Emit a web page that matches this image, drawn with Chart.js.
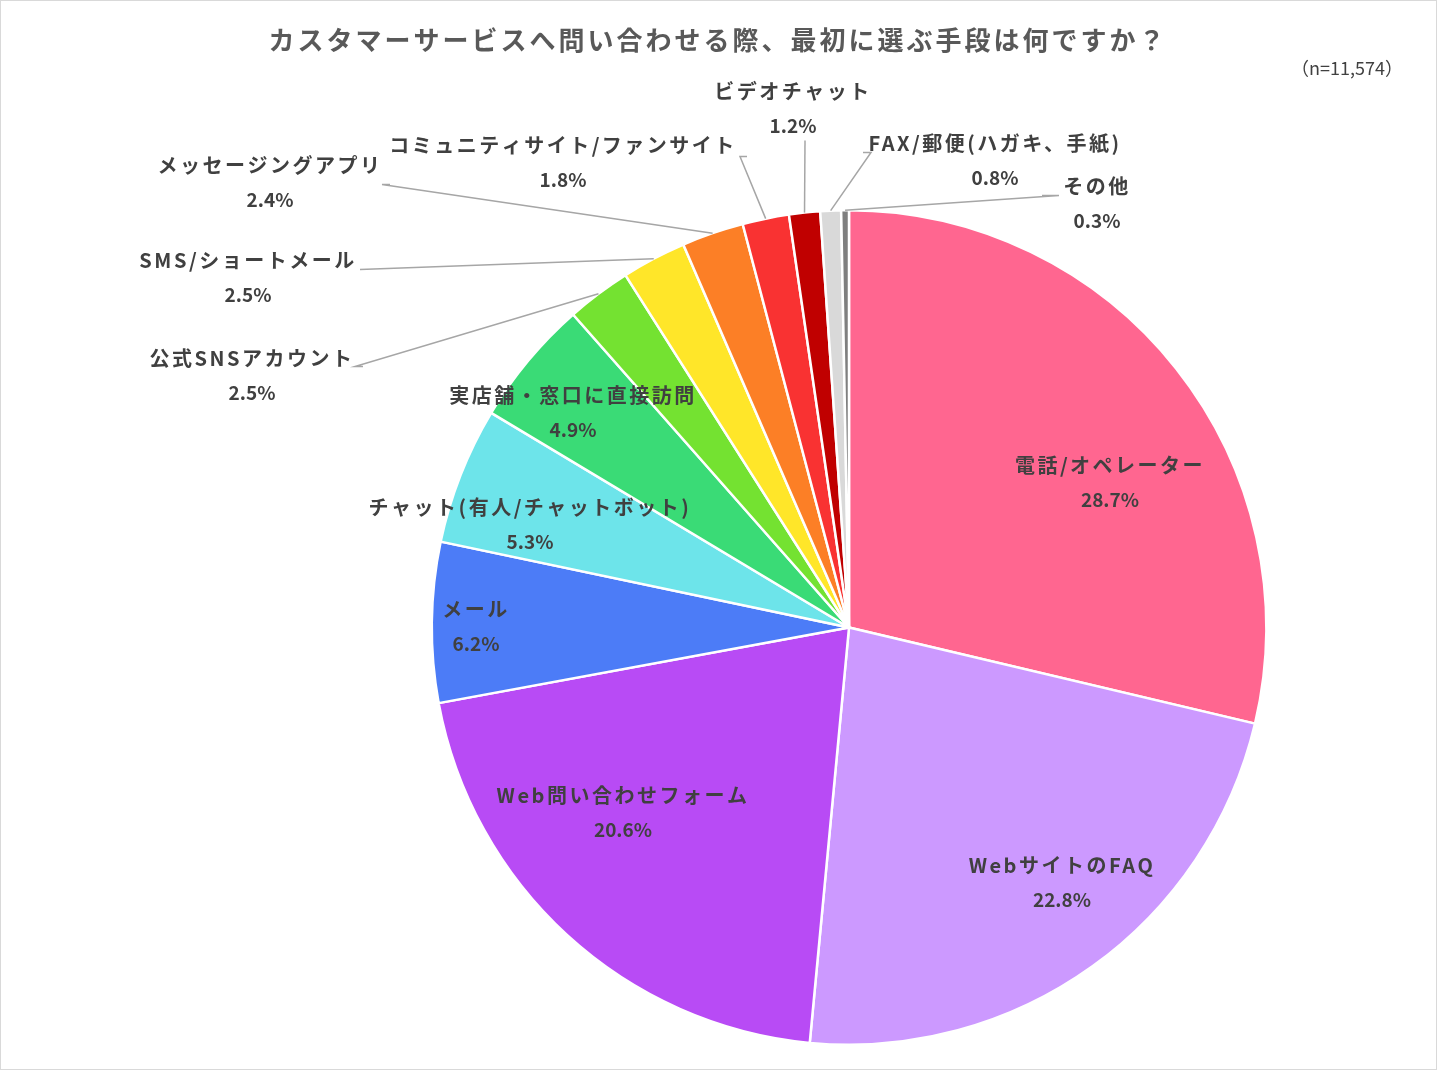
<!DOCTYPE html>
<html>
<head>
<meta charset="utf-8">
<script src="https://cdn.jsdelivr.net/npm/chart.js@4.4.0/dist/chart.umd.min.js"></script>
<style>
  html, body { margin: 0; padding: 0; background: #fff; }
  #wrap { width: 1437px; height: 1070px; }
</style>
</head>
<body>
<div id="wrap"><canvas id="pieChart" width="1437" height="1070"></canvas></div>
<script>
// Data
const categories = [
  "電話/オペレーター",
  "WebサイトのFAQ",
  "Web問い合わせフォーム",
  "メール",
  "チャット(有人/チャットボット)",
  "実店舗・窓口に直接訪問",
  "公式SNSアカウント",
  "SMS/ショートメール",
  "メッセージングアプリ",
  "コミュニティサイト/ファンサイト",
  "ビデオチャット",
  "FAX/郵便(ハガキ、手紙)",
  "その他",
];
const shares = [28.7, 22.8, 20.6, 6.2, 5.3, 4.9, 2.5, 2.5, 2.4, 1.8, 1.2, 0.8, 0.3];
const titleText = "カスタマーサービスへ問い合わせる際、最初に選ぶ手段は何ですか？";
const sampleText = "（n=11,574）";

// Styles
const sliceColors = [
  "#FF6690", "#CC99FF", "#B84BF5", "#4C7CF7", "#6DE4EA", "#3ADB76", "#74E231",
  "#FFE629", "#FC7F26", "#F93232", "#C00000", "#D9D9D9", "#7F7F7F",
];

// Label layout: offset of the name line from the pie centre (px)
const labelOffsets = [
  [261, -162], [213, 238], [-226, 168], [-373, -18], [-319, -120], [-276, -232],
  [-597, -269], [-601, -367], [-579, -462], [-286, -482], [-56, -536], [146, -484], [248, -441],
];
// Leader line points near the label (px from centre), null = label inside slice
const leaderPoints = [
  null, null, null, null, null, null,
  [[-494, -261], [-486, -261]],
  [[-489, -358], [-483, -358]],
  [[-467, -443], [-459, -443]],
  [[-109, -471], [-102, -471]],
  [[-44, -487]],
  [[22, -475], [14, -475]],
  [[210, -432], [193, -432]],
];

// Custom plugin: background, title, labels, leader lines
const labelPlugin = {
  id: "labelPlugin",
  beforeDraw(chart) {
    const ctx = chart.ctx;
    ctx.save();
    ctx.fillStyle = "#fff";
    ctx.fillRect(0, 0, chart.width, chart.height);
    ctx.restore();
  },
  afterDatasetsDraw(chart) {
    const ctx = chart.ctx;
    const arcs = chart.getDatasetMeta(0).data;
    const cx = arcs[0].x;
    const cy = arcs[0].y;
    ctx.save();

    // border around the picture
    ctx.strokeStyle = "#D9D9D9";
    ctx.lineWidth = 1;
    ctx.strokeRect(0.5, 0.5, chart.width - 1, chart.height - 1);

    // title
    ctx.fillStyle = "#595959";
    ctx.font = "bold 26px 'Noto Sans CJK JP'";
    ctx.letterSpacing = "3px";
    ctx.textAlign = "center";
    ctx.textBaseline = "middle";
    ctx.fillText(titleText, 718, 40);

    ctx.fillStyle = "#404040";
    ctx.font = "18px 'Noto Sans CJK JP'";
    ctx.letterSpacing = "0px";
    ctx.textAlign = "right";
    ctx.fillText(sampleText, 1403, 68);

    // leader lines
    ctx.strokeStyle = "#A6A6A6";
    ctx.lineWidth = 1.5;
    arcs.forEach((arc, i) => {
      const pts = leaderPoints[i];
      if (!pts) return;
      const mid = (arc.startAngle + arc.endAngle) / 2;
      const r = arc.outerRadius;
      ctx.beginPath();
      ctx.moveTo(cx + r * Math.cos(mid), cy + r * Math.sin(mid));
      pts.forEach((p) => ctx.lineTo(cx + p[0], cy + p[1]));
      ctx.stroke();
    });

    // labels
    ctx.fillStyle = "#404040";
    ctx.textAlign = "center";
    arcs.forEach((arc, i) => {
      const x = cx + labelOffsets[i][0];
      const y = cy + labelOffsets[i][1];
      ctx.font = "bold 20px 'Noto Sans CJK JP'";
      ctx.letterSpacing = "2.5px";
      ctx.fillText(categories[i], x, y);
      ctx.font = "bold 19px 'Noto Sans CJK JP'";
      ctx.letterSpacing = "0px";
      ctx.fillText(shares[i].toFixed(1) + "%", x, y + 34);
    });
    ctx.restore();
  },
};

const ctxPie = document.getElementById("pieChart").getContext("2d");
new Chart(ctxPie, {
  type: "pie",
  data: {
    labels: categories,
    datasets: [
      {
        data: shares,
        backgroundColor: sliceColors,
        borderColor: "#FFFFFF",
        borderWidth: 2.5,
      },
    ],
  },
  options: {
    responsive: false,
    animation: false,
    devicePixelRatio: 1,
    layout: {
      padding: { top: 209, bottom: 24, left: 430, right: 169 },
    },
    plugins: {
      legend: { display: false },
      tooltip: { enabled: false },
      title: { display: false },
    },
  },
  plugins: [labelPlugin],
});
</script>
</body>
</html>
